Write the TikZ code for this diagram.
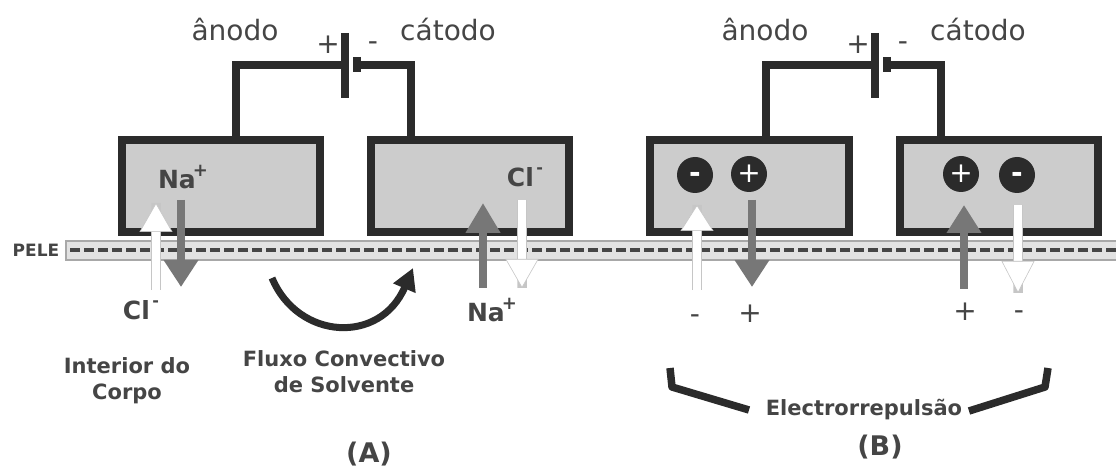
\documentclass[tikz,border=0pt]{standalone}
\usepackage{fontspec}
\setmainfont{DejaVu Sans}
\usetikzlibrary{arrows.meta,positioning}
\definecolor{ink}{HTML}{2B2B2B}
\definecolor{txt}{HTML}{454545}
\definecolor{flow}{HTML}{777777}
\definecolor{gel}{HTML}{CCCCCC}
\definecolor{skinfill}{HTML}{E2E2E2}
\definecolor{skinedge}{HTML}{A8A8A8}
\tikzset{
  x=1pt,y=-1pt,
  electrode/.style={draw=ink,fill=gel,line width=8pt,minimum width=198pt,minimum height=92pt,inner sep=0pt,line join=miter},
  wire/.style={draw=ink,line width=8pt,line join=miter},
  plate/.style={draw=ink,line width=8pt},
  lab/.style={text=txt,font=\fontsize{28}{30}\selectfont,inner sep=0pt},
  sign/.style={text=txt,font=\fontsize{28}{30}\selectfont,inner sep=0pt},
  ion/.style={font=\fontsize{25}{27}\bfseries\selectfont,inner sep=0pt,text=txt},
  caption/.style={text=txt,font=\fontsize{21}{26}\bfseries\selectfont,inner sep=0pt,align=center},
  panel/.style={text=txt,font=\fontsize{27}{29}\bfseries\selectfont,inner sep=0pt},
  charge/.style={circle,fill=ink,minimum size=36pt,inner sep=0pt,text=white,font=\fontsize{28}{28}\selectfont},
  greyflow/.style={draw=flow,line width=8pt,-{Triangle[length=#1,width=33pt]}},
  whiteflow/.style={draw=white,line width=8pt,preaction={draw=gray!45,line width=9.5pt,-{Butt Cap}},-{Triangle[length=#1,width=33pt,color=gray!45,fill=white,line width=.6pt]}},
  bracket/.style={draw=ink,line width=7.5pt,line join=round},
}
\newcommand{\ionsup}[1]{\raisebox{.5em}{\kern-.12em\fontsize{18}{18}\selectfont #1}}
\newcommand{\ionminus}{\raisebox{.5em}{\kern.1em\fontsize{16}{16}\selectfont -}}
\newcommand{\hy}{\raisebox{-.27em}[0pt][0pt]{-}}
\begin{document}
\begin{tikzpicture}
\useasboundingbox (0,0) rectangle (1116,470);
% skin
\fill[skinfill] (65,240) rectangle (1116,261);
\draw[draw=skinedge,line width=2.6pt] (1116,241) -- (66,241) -- (66,260) -- (1116,260);
\coordinate (skinL) at (70,250.5); \coordinate (skinR) at (1116,250.5);
\draw[draw=txt,line width=4pt,dash pattern=on 10pt off 4pt] (skinL) -- (skinR);
\node[text=txt,font=\fontsize{17}{18}\bfseries\selectfont,inner sep=0pt] (pele) at (36,250) {PELE};
% electrodes
\node[electrode] (a1) at (220.5,186.5) {};
\node[electrode,minimum width=198pt] (a2) at (469.5,186.5) {};
\node[electrode,minimum width=199pt] (b1) at (749.5,186.5) {};
\node[electrode,minimum width=198pt] (b2) at (999,186.5) {};
% battery A
\coordinate (p1) at (345,33); \coordinate (p1e) at (345,98);
\coordinate (n1) at (357,57); \coordinate (n1e) at (357,72);
\coordinate (ca) at (236,65); \coordinate (cb) at (411,65);
\draw[wire] (a1.north -| ca) -- (ca) -- (ca -| p1);
\draw[wire] (a2.north -| cb) -- (cb) -- (cb -| n1);
\draw[plate] (p1) -- (p1e);
\draw[plate] (n1) -- (n1e);
% battery B
\coordinate (p2) at (875,33); \coordinate (p2e) at (875,98);
\coordinate (n2) at (887,57); \coordinate (n2e) at (887,72);
\coordinate (cc) at (766,65); \coordinate (cd) at (941,65);
\draw[wire] (b1.north -| cc) -- (cc) -- (cc -| p2);
\draw[wire] (b2.north -| cd) -- (cd) -- (cd -| n2);
\draw[plate] (p2) -- (p2e);
\draw[plate] (n2) -- (n2e);
% top labels
\node[lab] (an1) at (235,30) {ânodo};
\node[lab] (ca1) at (448,30) {cátodo};
\node[sign] (sp1) at (328,45) {+};
\node[sign] (sm1) at (373,43) {\hy};
\node[lab] (an2) at (765,30) {ânodo};
\node[lab] (ca2) at (978,30) {cátodo};
\node[sign] (sp2) at (858,45) {+};
\node[sign] (sm2) at (903,43) {\hy};
% arrows A
\coordinate (f1s) at (156,290); \coordinate (f1e) at (156,203);
\coordinate (f2s) at (181,200); \coordinate (f2e) at (181,287);
\coordinate (f3s) at (483,288); \coordinate (f3e) at (483,203);
\coordinate (f4s) at (522,200); \coordinate (f4e) at (522,288);
\draw[whiteflow=29pt] (f1s) -- (f1e);
\draw[greyflow=27pt] (f2s) -- (f2e);
\draw[greyflow=30pt] (f3s) -- (f3e);
\draw[whiteflow=29pt] (f4s) -- (f4e);
% arrows B
\coordinate (g1s) at (697,290); \coordinate (g1e) at (697,205);
\coordinate (g2s) at (752,200); \coordinate (g2e) at (752,287);
\coordinate (g3s) at (964,289); \coordinate (g3e) at (964,205);
\coordinate (g4s) at (1018,205); \coordinate (g4e) at (1018,293);
\draw[whiteflow=26pt] (g1s) -- (g1e);
\draw[greyflow=27pt] (g2s) -- (g2e);
\draw[greyflow=28pt] (g3s) -- (g3e);
\draw[whiteflow=32pt] (g4s) -- (g4e);
% ions
\node[ion] (na1) at (183,177) {Na\ionsup{+}};
\node[ion] (cl1) at (525,177) {Cl\ionminus};
\node[ion] (cl2) at (141,310) {Cl\ionminus};
\node[ion] (na2) at (492,310) {Na\ionsup{+}};
\node[charge,font=\fontsize{28}{28}\bfseries\selectfont] (q1) at (695,175) {\hy};
\node[charge] (q2) at (749,174) {+};
\node[charge] (q3) at (961,174) {+};
\node[charge,font=\fontsize{28}{28}\bfseries\selectfont] (q4) at (1017,175) {\hy};
\node[sign] (l1) at (695,316) {\hy};
\node[sign] (l2) at (750,314) {+};
\node[sign] (l3) at (965,312) {+};
\node[sign] (l4) at (1019,312) {\hy};
% convective flow
\coordinate (cv1) at (272,278); \coordinate (cv2) at (413,268);
\draw[draw=ink,line width=7pt,-{Triangle[length=22pt,width=23pt]}] (cv1) .. controls (298,340) and (380,345) .. (cv2);
% captions
\node[caption] (c1) at (127,380.5) {Interior do\\Corpo};
\node[caption] (c2) at (344,372) {Fluxo Convectivo\\de Solvente};
\node[caption] (er) at (864,410) {Electrorrepulsão};
\node[panel] (pa) at (369,454) {(A)};
\node[panel] (pb) at (880,447) {(B)};
% brackets
\coordinate (bl1) at (670,368); \coordinate (bl2) at (672,387); \coordinate (bl3) at (749,410);
\coordinate (br1) at (1048,368); \coordinate (br2) at (1045,387); \coordinate (br3) at (969,411);
\draw[bracket] (bl1) -- (bl2) -- (bl3);
\draw[bracket] (br1) -- (br2) -- (br3);
\end{tikzpicture}
\end{document}
